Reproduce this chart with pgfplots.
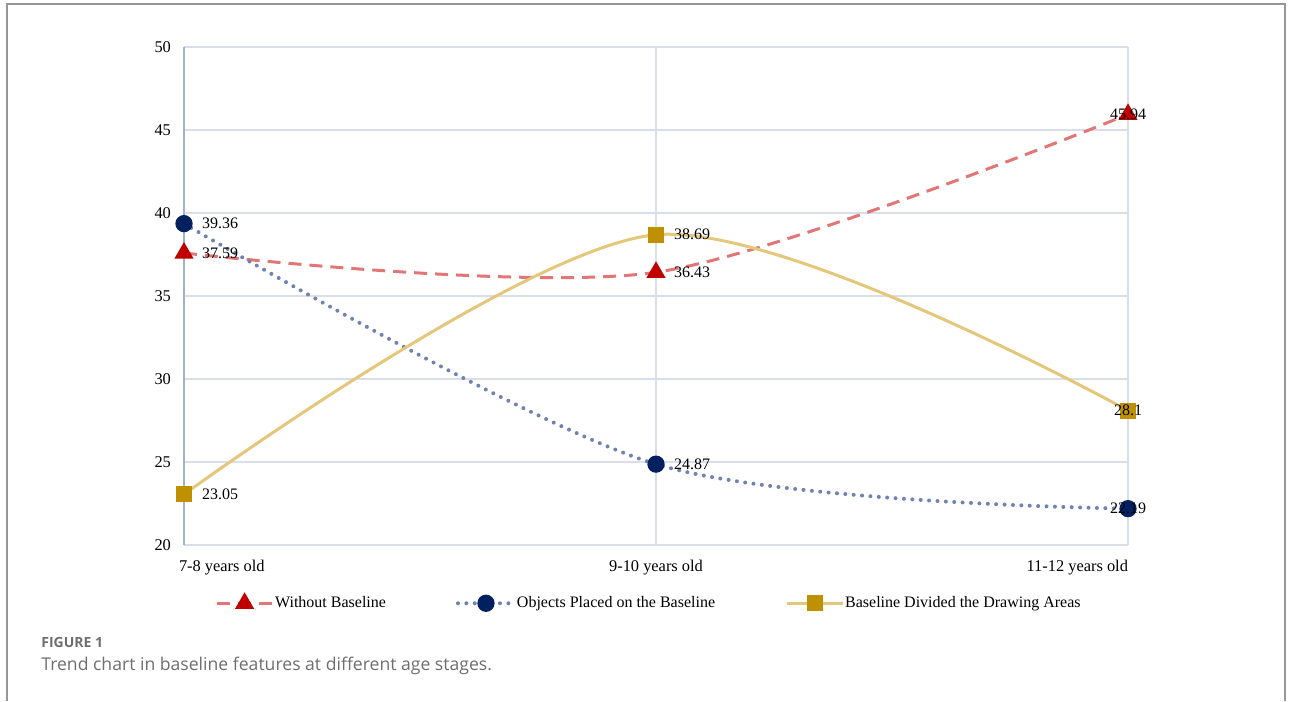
\documentclass[border=0pt]{standalone}
\usepackage{fontspec}
\setmainfont{Liberation Serif}
\newfontfamily\capfont{Open Sans}
\usepackage{pgfplots}
\pgfplotsset{compat=1.18}
\definecolor{gridc}{RGB}{217,223,234}
\definecolor{axc}{RGB}{160,178,208}
\definecolor{redline}{RGB}{226,118,118}
\definecolor{redmark}{RGB}{192,0,0}
\definecolor{blueline}{RGB}{112,130,176}
\definecolor{bluemark}{RGB}{0,32,96}
\definecolor{yelline}{RGB}{228,199,122}
\definecolor{yelmark}{RGB}{191,144,0}
\definecolor{framec}{RGB}{150,150,150}
\definecolor{capc}{RGB}{110,110,110}
\begin{document}
\begin{tikzpicture}
\useasboundingbox (0,0) rectangle (646.5pt,350.5pt);
\draw[framec, line width=0.8pt] (3.5pt,0) -- (3.5pt,348.5pt) -- (642.5pt,348.5pt) -- (642.5pt,0);
\begin{axis}[
  at={(92pt,78pt)}, anchor=south west,
  scale only axis, width=472pt, height=249pt,
  xmin=0, xmax=2, ymin=20, ymax=50,
  xtick={0,1,2},
  xticklabels={\makebox[0pt][l]{\hspace{-2.5pt}7-8 years old},9-10 years old,\makebox[0pt][r]{11-12 years old}},
  ytick={20,25,...,50},
  major tick length=0pt,
  grid=major,
  major grid style={gridc, line width=0.6pt},
  axis x line=bottom, axis y line=left,
  x axis line style={draw=gridc, -},
  y axis line style={draw=axc, line width=0.6pt, -},
  /pgf/number format/assume math mode=true,
  tick label style={font=\fontsize{8.2pt}{9pt}\selectfont, text=black},
  yticklabel style={xshift=-3pt},
  xticklabel style={yshift=-4pt},
  legend columns=3,
  legend style={draw=none, fill=none, at={(0.4935,-0.117)}, anchor=center,
    font=\fontsize{8pt}{9pt}\selectfont,
    /tikz/every even column/.append style={column sep=33pt},
    /tikz/every odd column/.append style={column sep=-1.5pt}},
  legend image code/.code={\draw[mark repeat=2,mark phase=2] plot coordinates {(0pt,0pt)(14pt,0pt)(28pt,0pt)};},
  point meta=explicit symbolic,
  visualization depends on={value \coordindex \as \idx},
  nodes near coords={\ifnum\idx=2 \makebox[0pt][c]{\pgfplotspointmeta}\else\makebox[0pt][l]{\hspace{9pt}\pgfplotspointmeta}\fi},
  every node near coord/.append style={font=\fontsize{8pt}{9pt}\selectfont, text=black, anchor=center, solid, inner sep=0pt},
  smooth, tension=0.5,
]
\addplot[redline, line width=1.5pt, dash pattern=on 6.5pt off 4pt,
  mark=triangle*, mark size=4pt, mark options={solid, fill=redmark, draw=redmark}]
  coordinates {(0,37.59) [37.59] (1,36.43) [36.43] (2,45.94) [45.94]};
\addlegendentry{Without Baseline}
\addplot[blueline, line width=2pt, line cap=round, dash pattern=on 0pt off 4.2pt,
  mark=*, mark size=3.3pt, mark options={solid, fill=bluemark, draw=bluemark}]
  coordinates {(0,39.36) [39.36] (1,24.87) [24.87] (2,22.19) [22.19]};
\addlegendentry{Objects Placed on the Baseline}
\addplot[yelline, line width=1.5pt,
  mark=square*, mark size=3.25pt, mark options={solid, fill=yelmark, draw=yelmark}]
  coordinates {(0,23.05) [23.05] (1,38.69) [38.69] (2,28.1) [28.1]};
\addlegendentry{Baseline Divided the Drawing Areas}
\end{axis}
\node[anchor=west, inner sep=0pt, text=capc, font=\capfont\bfseries\fontsize{7pt}{8pt}\selectfont] at (20.5pt,29.5pt) {FIGURE 1};
\node[anchor=west, inner sep=0pt, text=capc, font=\capfont\fontsize{8.8pt}{10pt}\selectfont] at (20.5pt,17.5pt) {Trend chart in baseline features at different age stages.};
\end{tikzpicture}
\end{document}
